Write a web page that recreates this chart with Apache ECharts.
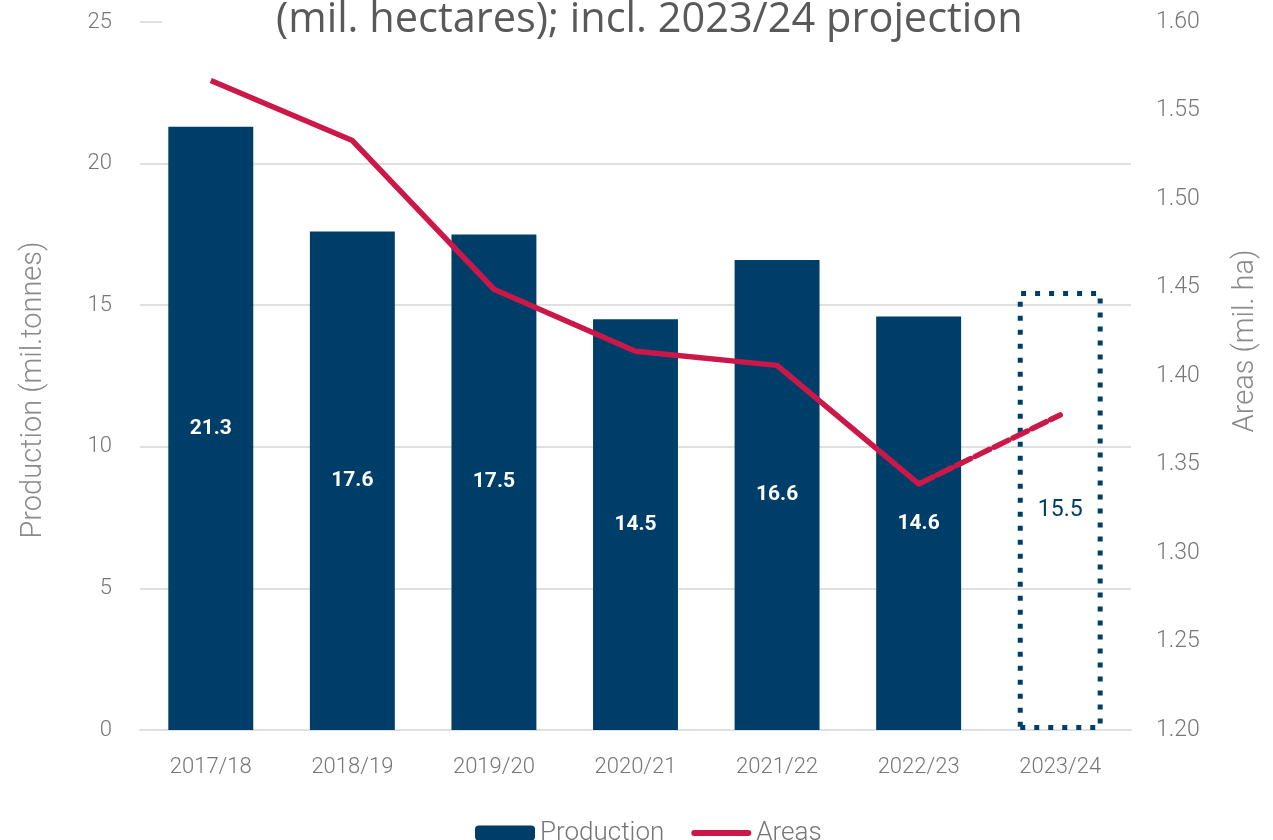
<!DOCTYPE html>
<html>
<head>
<meta charset="utf-8">
<script src="https://cdn.jsdelivr.net/npm/echarts@6/dist/echarts.min.js"></script>
<style>
  html, body { margin: 0; padding: 0; background: #fff; }
  #main { width: 1273px; height: 840px; }
</style>
</head>
<body>
<div id="main"></div>
<script>
var years = ['2017/18', '2018/19', '2019/20', '2020/21', '2021/22', '2022/23', '2023/24']
var production = [21.3, 17.6, 17.5, 14.5, 16.6, 14.6, 15.5]
var areas = [1.567, 1.533, 1.449, 1.414, 1.406, 1.339, 1.378]
var projectionIndex = 6
var leftTicks = { min: 0, max: 25, interval: 5 }
var rightTicks = { min: 1.2, max: 1.6, interval: 0.05 }

var navy = '#003e6a'
var red = '#cc1849'
var grey = '#767676'

var barData = []
var areaSolid = []
var areaDashed = []
for (var i = 0; i < years.length; i++) {
	if (i == projectionIndex) {
		barData.push({
			value : production[i],
			itemStyle : {
				color : 'rgba(0,0,0,0)',
				borderColor : navy,
				borderWidth : 5,
				borderType : [5, 9]
			},
			label : {
				color : navy,
				fontWeight : 'normal',
				fontSize : 23
			}
		})
	} else {
		barData.push(production[i])
	}
	areaSolid.push(i < projectionIndex ? areas[i] : '-')
	areaDashed.push(i >= projectionIndex - 1 ? areas[i] : '-')
}

var myChart = echarts.init(document.getElementById('main'))
var option = {
	animation : false,
	textStyle : { fontFamily : 'Roboto, "Liberation Sans", sans-serif' },
	title : {
		text : '(mil. hectares); incl. 2023/24 projection',
		left : 162,
		top : -1,
		padding : [0, 114, 0, 114],
		backgroundColor : '#fff',
		textStyle : {
			fontFamily : '"Open Sans", "Noto Sans", sans-serif',
			fontSize : 41.5,
			fontWeight : 'normal',
			color : '#595959'
		}
	},
	grid : {
		left : 140,
		right : 142,
		top : 22,
		bottom : 110
	},
	legend : {
		data : [ 'Production', {
			name : 'Areas',
			icon : 'path://M3,0H59A3,3,0,0,1,59,6H3A3,3,0,0,1,3,0Z',
			itemStyle : { color : red }
		} ],
		left : 470,
		top : 815,
		itemWidth : 60,
		itemHeight : 15,
		itemGap : 27,
		textStyle : { fontSize : 26, fontWeight : 300, color : grey }
	},
	xAxis : {
		type : 'category',
		data : years,
		axisLine : { show : true, lineStyle : { color : '#e0e0e0', width : 2 } },
		axisTick : { show : false },
		axisLabel : { fontSize : 22, fontWeight : 300, color : grey, margin : 26 }
	},
	yAxis : [ {
		type : 'value',
		min : leftTicks.min,
		max : leftTicks.max,
		interval : leftTicks.interval,
		name : 'Production (mil.tonnes)',
		nameLocation : 'middle',
		nameRotate : 90,
		nameGap : 92,
		nameTextStyle : { fontSize : 29, fontWeight : 300, color : '#8a8a8a', padding : [0, 28, 0, 0] },
		axisLine : { show : false },
		axisTick : { show : false },
		axisLabel : { fontSize : 22, fontWeight : 300, color : grey, margin : 28 },
		splitLine : { lineStyle : { color : '#e0e0e0', width : 2 } }
	}, {
		type : 'value',
		min : rightTicks.min,
		max : rightTicks.max,
		interval : rightTicks.interval,
		name : 'Areas (mil. ha)',
		nameLocation : 'middle',
		nameRotate : 90,
		nameGap : 100,
		nameTextStyle : { fontSize : 29, fontWeight : 300, color : '#8a8a8a', padding : [0, 0, 0, 70] },
		axisLine : { show : false },
		axisTick : { show : false },
		axisLabel : {
			fontSize : 23,
			fontWeight : 300,
			color : grey,
			margin : 25,
			formatter : function(v) { return v.toFixed(2) }
		},
		splitLine : { show : false }
	} ],
	series : [ {
		name : 'Production',
		type : 'bar',
		barWidth : '60%',
		itemStyle : { color : navy },
		label : {
			show : true,
			position : 'inside',
			color : '#fff',
			fontSize : 21,
			fontWeight : 'bold',
			formatter : function(p) { return p.value.toFixed(1) }
		},
		data : barData
	}, {
		name : 'Areas',
		type : 'line',
		yAxisIndex : 1,
		symbol : 'none',
		lineStyle : { color : red, width : 5.5 },
		itemStyle : { color : red },
		z : 5,
		data : areaSolid
	}, {
		name : 'Areas projection',
		type : 'line',
		yAxisIndex : 1,
		symbol : 'none',
		lineStyle : { color : red, width : 5.5, type : [16, 5], cap : 'round' },
		z : 5,
		data : areaDashed
	} ]
}
myChart.setOption(option)
</script>
</body>
</html>
